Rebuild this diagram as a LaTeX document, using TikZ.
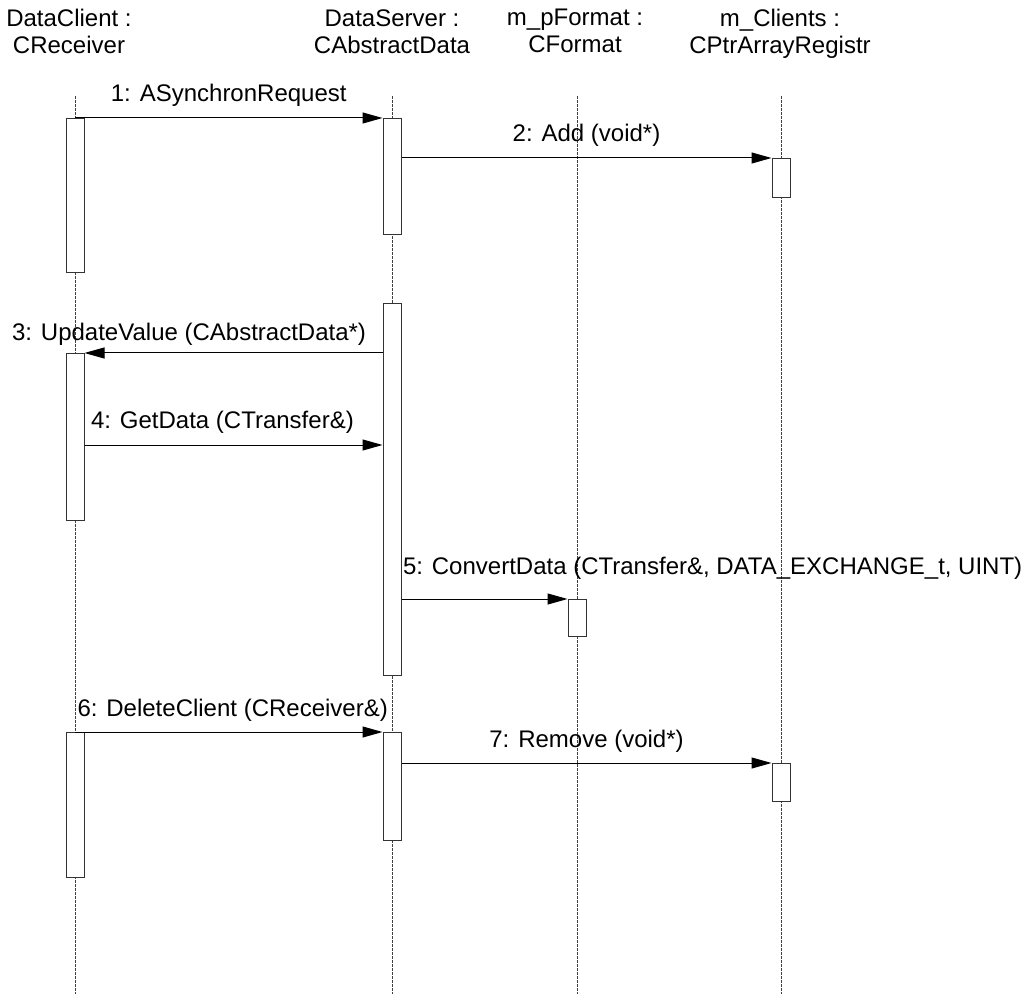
\documentclass[tikz,border=0pt]{standalone}
\usepackage{fontspec}
\setmainfont{Liberation Sans}
\usetikzlibrary{arrows.meta,positioning,calc}

\tikzset{
  obj/.style={align=center, inner sep=0pt, anchor=north, font=\fontsize{12}{13.5}\selectfont},
  life/.style={line width=0.4pt, black!75, dash pattern=on 1.5pt off 0.5pt},
  act/.style={draw, black!80, fill=white, line width=0.5pt, rectangle, anchor=north, minimum width=9pt, inner sep=0pt},
  msg/.style={line width=0.5pt, -{Triangle[length=10pt,width=5.5pt]}},
  lbl/.style={font=\fontsize{12}{14}\selectfont, inner sep=0pt, anchor=base, yshift=8pt}
}

\begin{document}
\begin{tikzpicture}[x=0.5pt, y=-0.5pt]
  \useasboundingbox (0,0) rectangle (1022,994);

  % objects
  \node[obj] (client) at (69,9) {DataClient :\\CReceiver};
  \node[obj] (server) at (392,9) {DataServer :\\CAbstractData};
  \node[obj] (format) at (575,9) {m\_pFormat :\\CFormat};
  \node[obj] (reg) at (780,9) {m\_Clients :\\CPtrArrayRegistr};

  % lifelines
  \draw[life] (75,96) -- (75,994);
  \draw[life] (392,96) -- (392,994);
  \draw[life] (577,96) -- (577,994);
  \draw[life] (781,96) -- (781,994);

  % activations
  \node[act, minimum height=77pt] (cr1) at (75,118) {};
  \node[act, minimum height=58pt] (ds1) at (392,118) {};
  \node[act, minimum height=19.5pt] (cl1) at (781,158) {};
  \node[act, minimum height=186pt] (ds2) at (392,303) {};
  \node[act, minimum height=83.5pt] (cr2) at (75,353) {};
  \node[act, minimum height=18.5pt] (fm1) at (577,599) {};
  \node[act, minimum height=72.5pt] (cr3) at (75,732) {};
  \node[act, minimum height=54pt] (ds3) at (392,732) {};
  \node[act, minimum height=19pt] (cl2) at (781,763) {};

  \coordinate (m4) at (0,445);

  % messages
  \draw[msg] (cr1.north) -- node[lbl, midway] {1: ASynchronRequest} (ds1.north west);
  \draw[msg] (ds1.east |- cl1.north) -- node[lbl, midway] {2: Add (void*)} (cl1.north west);
  \draw[msg] (ds2.west |- cr2.north) -- node[lbl, pos=0, anchor=base east, xshift=-8pt, yshift=-1.7pt] {3: UpdateValue (CAbstractData*)} (cr2.north east);
  \draw[msg] (cr2.east |- m4) -- node[lbl, pos=0, anchor=base west, xshift=3pt] {4: GetData (CTransfer\&)} (ds2.west |- m4);
  \draw[msg] (ds2.east |- fm1.north) -- node[lbl, pos=0, anchor=base west, xshift=0.5pt, yshift=4.5pt] {5: ConvertData (CTransfer\&, DATA\_EXCHANGE\_t, UINT)} (fm1.north west);
  \draw[msg] (cr3.north) -- node[lbl, pos=0, anchor=base west, xshift=1pt] {6: DeleteClient (CReceiver\&)} (ds3.north west);
  \draw[msg] (ds3.east |- cl2.north) -- node[lbl, midway] {7: Remove (void*)} (cl2.north west);
\end{tikzpicture}
\end{document}
